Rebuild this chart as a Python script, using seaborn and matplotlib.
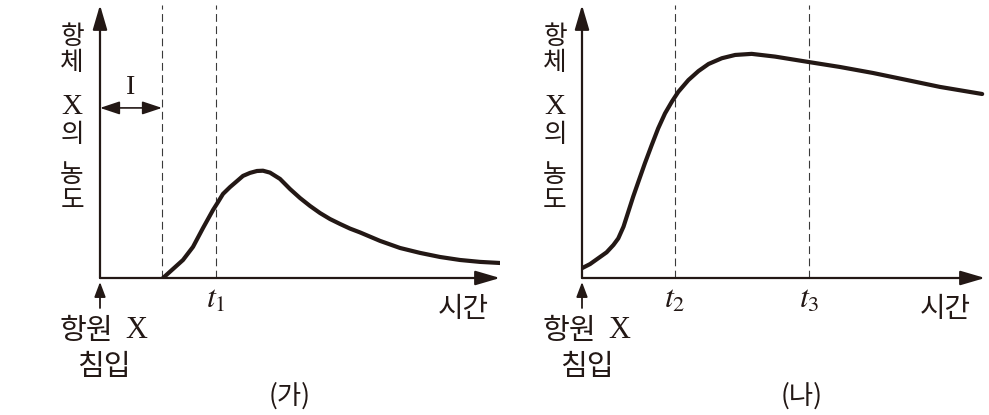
import matplotlib
matplotlib.use('Agg')
import matplotlib.pyplot as plt
from matplotlib.patches import FancyArrowPatch
import seaborn as sns
import pandas as pd

# (가) first exposure: antibody X concentration over time (arbitrary units)
time_ga = [1.575, 1.825, 2.075, 2.325, 2.575, 2.825, 2.95, 3.075, 3.25, 3.425, 3.575,
           3.75, 3.925, 4.075, 4.25, 4.5, 4.75, 5.0, 5.25, 5.5, 5.75, 6.0, 6.25,
           6.5, 7.0, 7.5, 8.0, 8.5, 9.0, 9.5, 10.0]
conc_ga = [0.0, 0.33, 0.66, 1.14, 1.83, 2.49, 2.78, 3.08, 3.33, 3.55, 3.74,
           3.85, 3.92, 3.93, 3.86, 3.63, 3.26, 2.93, 2.64, 2.38, 2.16, 1.98, 1.81,
           1.67, 1.36, 1.10, 0.92, 0.77, 0.66, 0.59, 0.55]
lag_end = 1.55   # end of period I
t1 = 2.9

# (나) second exposure
time_na = [0.0, 0.20, 0.40, 0.61, 0.78, 0.90, 1.03, 1.15, 1.27, 1.40, 1.56, 1.73,
           1.89, 2.06, 2.23, 2.39, 2.64, 2.89, 3.14, 3.47, 3.80, 4.21, 4.79, 5.63,
           6.40, 7.22, 8.07, 8.88, 9.93]
conc_na = [0.36, 0.51, 0.72, 0.94, 1.21, 1.45, 1.88, 2.43, 2.98, 3.53, 4.20, 4.87,
           5.48, 6.03, 6.46, 6.82, 7.25, 7.58, 7.84, 8.05, 8.17, 8.21, 8.11, 7.91,
           7.73, 7.51, 7.25, 7.00, 6.74]
t2 = 2.31
t3 = 5.63

W, H = 989, 415
INK = '#231815'

sns.set_theme(style='white')
plt.rcParams['font.family'] = ['Noto Sans CJK KR', 'DejaVu Sans']
plt.rcParams['mathtext.fontset'] = 'stix'
mixed = ['Liberation Serif', 'Noto Sans CJK KR']

fig = plt.figure(figsize=(W / 100, H / 100), dpi=100)


def px(x, y):
    return x / W, 1 - y / H


def setup(ax):
    ax.set_xlim(0, 10)
    ax.set_ylim(0, 10)
    for s in ax.spines.values():
        s.set_visible(False)
    ax.set_xticks([])
    ax.set_yticks([])
    ax.patch.set_alpha(0)
    arrow = dict(arrowstyle='-|>,head_length=0.75,head_width=0.22', color=INK,
                 lw=1.6, mutation_scale=20, shrinkA=0, shrinkB=0)
    ax.annotate('', xy=(1, 0), xytext=(0, 0), xycoords='axes fraction', arrowprops=arrow)
    ax.annotate('', xy=(0, 1), xytext=(0, 0), xycoords='axes fraction', arrowprops=arrow)


ax1 = fig.add_axes([100 / W, 1 - 278 / H, 400 / W, 273 / H])
ax2 = fig.add_axes([582 / W, 1 - 278 / H, 403 / W, 273 / H])
setup(ax1)
setup(ax2)

dash = dict(color='#3a3a3a', lw=0.8, ls=(0, (7, 4)), zorder=1)
line = dict(color=INK, lw=3.0, estimator=None, sort=False, legend=False, zorder=3,
            solid_joinstyle='round', solid_capstyle='round')

df_ga = pd.DataFrame({'time': time_ga, 'conc': conc_ga})
sns.lineplot(data=df_ga, x='time', y='conc', ax=ax1, **line)
ax1.axvline(lag_end, **dash)
ax1.axvline(t1, **dash)
ax1.set_xlabel('')
ax1.set_ylabel('')
ax1.annotate('', xy=(lag_end, 6.23), xytext=(0, 6.23),
             arrowprops=dict(arrowstyle='<|-|>,head_length=0.6,head_width=0.2', color=INK,
                             lw=1.2, mutation_scale=20, shrinkA=0, shrinkB=0))
ax1.text(lag_end / 2, 6.96, 'I', family='Liberation Serif', fontsize=20,
         ha='center', va='center', color=INK)
ax1.text(t1, -0.75, r'$t_{1}$', fontsize=23, ha='center', va='center', color=INK)

df_na = pd.DataFrame({'time': time_na, 'conc': conc_na})
sns.lineplot(data=df_na, x='time', y='conc', ax=ax2, **line)
ax2.axvline(t2, **dash)
ax2.axvline(t3, **dash)
ax2.set_xlabel('')
ax2.set_ylabel('')
ax2.text(t2, -0.75, r'$t_{2}$', fontsize=23, ha='center', va='center', color=INK)
ax2.text(t3, -0.75, r'$t_{3}$', fontsize=23, ha='center', va='center', color=INK)

# vertical y-label, time label, antigen-entry note and caption for both panels
label_chars = ['항', '체', 'X', '의', '농', '도']
label_ys = [37, 63, 107, 135, 176, 202]
panels = [(72, 100, 104, 463, 290, '(가)'), (555, 582, 587, 945, 802, '(나)')]
for x_lab, x_ax, x_cap, x_time, x_title, title in panels:
    for ch, yy in zip(label_chars, label_ys):
        size = 21 if ch == 'X' else 18.5
        fig.text(*px(x_lab, yy), ch, family=mixed, fontsize=size, ha='center', va='center',
                 color=INK)
    fig.text(*px(x_time, 309), '시간', fontsize=20, ha='center', va='center', color=INK)
    fig.text(*px(x_cap - 18, 331), '항원', fontsize=21, ha='center', va='center', color=INK)
    fig.text(*px(x_cap + 32, 331), 'X', family='Liberation Serif', fontsize=22,
             ha='center', va='center', color=INK)
    fig.text(*px(x_cap, 367), '침입', fontsize=21, ha='center', va='center', color=INK)
    fig.text(*px(x_title, 396), title, fontsize=19, ha='center', va='center', color=INK)
    fig.patches.append(FancyArrowPatch(
        px(x_ax, 308), px(x_ax, 282), transform=fig.transFigure,
        arrowstyle='-|>,head_length=0.45,head_width=0.17', color=INK, lw=1.3,
        mutation_scale=20, shrinkA=0, shrinkB=0))

fig.savefig('out.png', dpi=100)
